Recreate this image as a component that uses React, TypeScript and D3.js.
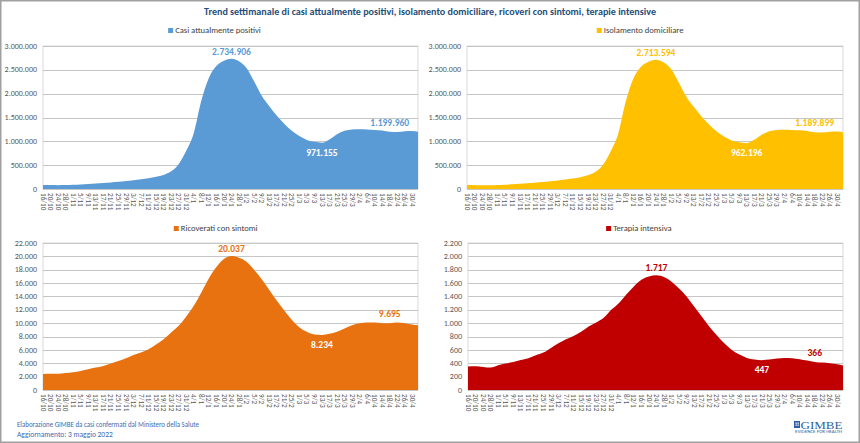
import React from "react";
import * as d3 from "d3";

// ---------- DATA ----------
const tickLabels = ["16/10","20/10","24/10","28/10","1/11","5/11","9/11","13/11","17/11","21/11","25/11","29/11","3/12","7/12","11/12","15/12","19/12","23/12","27/12","31/12","4/1","8/1","12/1","16/1","20/1","24/1","28/1","1/2","5/2","9/2","13/2","17/2","21/2","25/2","1/3","5/3","9/3","13/3","17/3","21/3","25/3","29/3","2/4","6/4","10/4","14/4","18/4","22/4","26/4","30/4"];
const pointDates = [...tickLabels, "3/5"];

const positivi = [85000,82000,80000,82000,87000,94000,103000,113000,125000,138000,
  152000,168000,185000,205000,228000,255000,295000,370000,520000,800000,
  1170000,1850000,2330000,2580000,2690000,2734906,2680000,2540000,2260000,1960000,
  1740000,1540000,1370000,1220000,1110000,1030000,990000,971155,1040000,1150000,
  1220000,1250000,1255000,1250000,1240000,1225000,1200000,1195000,1210000,1215000,
  1199960];
const isolamento = [82000,80000,77000,79000,84000,91000,99000,109000,121000,133000,
  147000,163000,179000,199000,221000,247000,286000,360000,510000,788000,
  1156000,1834000,2312000,2560000,2669000,2713594,2659000,2519000,2240000,1942000,
  1723000,1525000,1357000,1209000,1100000,1020000,981000,962196,1031000,1140000,
  1210000,1240000,1245000,1240000,1230000,1215000,1190000,1185000,1200000,1205000,
  1189899];
const ricoverati = [2400,2450,2450,2550,2650,2850,3100,3350,3600,3950,
  4350,4750,5250,5600,6100,6800,7600,8600,9600,11000,
  12600,14600,16700,18400,19600,20037,19800,19200,18000,16600,
  15000,13400,11900,10500,9400,8700,8300,8234,8400,8700,
  9200,9700,10000,10100,10100,10000,10000,10100,10000,9800,
  9695];
const terapia = [350,355,345,335,370,395,420,450,475,520,
  560,630,700,760,810,870,950,1010,1080,1200,
  1300,1430,1550,1650,1700,1717,1690,1620,1520,1400,
  1250,1100,950,820,700,600,530,480,455,447,
  455,470,480,475,460,440,420,410,400,385,
  366];

const seriesNames = ["Casi attualmente positivi","Isolamento domiciliare","Ricoverati con sintomi","Terapia intensiva"];
const yMaxes = [3000000, 3000000, 22000, 2200];
const ySteps = [500000, 500000, 2000, 200];

const titleText = "Trend settimanale di casi attualmente positivi, isolamento domiciliare, ricoveri con sintomi, terapie intensive";
const footer1 = "Elaborazione GIMBE da casi confermati dal Ministero della Salute";
const footer2 = "Aggiornamento: 3 maggio 2022";

// ---------- LAYOUT ----------
const W = 860, H = 443;
const FONT = "Carlito, Lato, 'Open Sans', sans-serif";
const layouts = [
  { left: 43, right: 418, top: 46, bottom: 189, legendX: 222, legendY: 33, color: "#5B9BD5", data: positivi },
  { left: 467, right: 843, top: 46, bottom: 189, legendX: 645, legendY: 33, color: "#FFC000", data: isolamento },
  { left: 43, right: 418, top: 243, bottom: 390, legendX: 222, legendY: 231, color: "#E8720F", data: ricoverati },
  { left: 468, right: 843, top: 243, bottom: 390, legendX: 645, legendY: 231, color: "#C00000", data: terapia },
];

const itLocale = d3.formatLocale({ decimal: ",", thousands: ".", grouping: [3], currency: ["€", ""] });
const fmt = itLocale.format(",d");

const START = new Date(2021, 9, 16);
function parseDM(s: string): Date {
  const [d, m] = s.split("/").map(Number);
  return new Date(m >= 10 ? 2021 : 2022, m - 1, d);
}

function Panel({ idx }: { idx: number }) {
  const L = layouts[idx];
  const yMax = yMaxes[idx], step = ySteps[idx];
  const dates = pointDates.map(parseDM);
  const x = d3.scaleTime().domain([START, parseDM("3/5")]).range([L.left, L.right]);
  const y = d3.scaleLinear().domain([0, yMax]).range([L.bottom, L.top]);
  const pts = L.data.map((v, i) => ({ d: dates[i], v }));
  const area = d3.area<{ d: Date; v: number }>().x(p => x(p.d)).y0(y(0)).y1(p => y(p.v)).curve(d3.curveMonotoneX);
  const yTicks = d3.range(0, yMax + step / 2, step);
  const peakI = d3.maxIndex(L.data);
  const minI = peakI + d3.minIndex(L.data.slice(peakI, 42));
  const lastI = L.data.length - 1;
  const endLabelI = lastI - 4;
  const legendW = seriesNames[idx].length * 3.75;
  return (
    <g>
      <rect x={L.left} y={L.top} width={L.right - L.left} height={L.bottom - L.top} fill="#fff" stroke="#D9D9D9" strokeWidth={1} />
      {yTicks.map(t => (
        <line key={t} x1={L.left} x2={L.right} y1={Math.round(y(t)) + 0.5} y2={Math.round(y(t)) + 0.5} stroke="#C6C6C6" strokeWidth={1} />
      ))}
      <path d={area(pts) || ""} fill={L.color} />
      {yTicks.map(t => (
        <text key={"l" + t} x={L.left - 6} y={y(t)} dy="0.33em" textAnchor="end" fontSize={8} fill="#595959" fontFamily={FONT}>{fmt(t)}</text>
      ))}
      {tickLabels.map(t => {
        const tx = x(parseDM(t));
        return (
          <text key={"x" + t} transform={`translate(${tx},${L.bottom + 4}) rotate(90)`} dy="0.33em" textAnchor="start" fontSize={7.2} fill="#595959" fontFamily={FONT}>{t}</text>
        );
      })}
      <rect x={L.legendX - legendW / 2 - 7} y={L.legendY - 5} width={5} height={5} fill={L.color} />
      <text x={L.legendX - legendW / 2} y={L.legendY} fontSize={8.6} fill="#404040" fontFamily={FONT}>{seriesNames[idx]}</text>
      <text x={x(dates[peakI])} y={y(L.data[peakI]) - 4} textAnchor="middle" fontSize={9.5} fontWeight="bold" fill={L.color} fontFamily={FONT}>{fmt(L.data[peakI])}</text>
      <text x={x(dates[minI])} y={y(L.data[minI]) + 13} textAnchor="middle" fontSize={9.5} fontWeight="bold" fill="#fff" fontFamily={FONT}>{fmt(L.data[minI])}</text>
      <text x={x(dates[endLabelI])} y={y(L.data[endLabelI]) - 6} textAnchor="middle" fontSize={9.5} fontWeight="bold" fill={L.color} fontFamily={FONT}>{fmt(L.data[lastI])}</text>
    </g>
  );
}

export default function App() {
  return (
    <div style={{ position: "absolute", left: 0, top: 0 }}>
      <svg width={W} height={H} viewBox={`0 0 ${W} ${H}`} style={{ display: "block", background: "#fff" }}>
        <rect x={0.75} y={0.75} width={W - 1.5} height={H - 1.5} fill="#fff" stroke="#A0A0A0" strokeWidth={1.5} />
        <text x={430} y={15} textAnchor="middle" fontSize={10.5} fontWeight="bold" fill="#1F4E79" fontFamily={FONT} textLength={452} lengthAdjust="spacingAndGlyphs">{titleText}</text>
        {[0, 1, 2, 3].map(i => <Panel key={i} idx={i} />)}
        <text x={17} y={427} fontSize={7.5} fill="#3B6BB0" fontFamily={FONT} textLength={182} lengthAdjust="spacingAndGlyphs">{footer1}</text>
        <text x={17} y={436.5} fontSize={7.5} fill="#3B6BB0" fontFamily={FONT}>{footer2}</text>
        <g>
          <rect x={794} y={421} width={6} height={7} fill="#2E5FA3" />
          <rect x={795.5} y={422.5} width={1.3} height={1.3} fill="#fff" />
          <rect x={797.5} y={422.5} width={1.3} height={1.3} fill="#fff" />
          <rect x={795.5} y={424.5} width={1.3} height={1.3} fill="#fff" />
          <rect x={797.5} y={424.5} width={1.3} height={1.3} fill="#fff" />
          <text x={800.5} y={428.5} fontSize={10.5} fill="#2E5FA3" fontFamily="'Liberation Serif', 'DejaVu Serif', serif" textLength={42} lengthAdjust="spacingAndGlyphs">GIMBE</text>
          <text x={795} y={432.5} fontSize={3} fill="#2E5FA3" fontFamily={FONT} textLength={47} lengthAdjust="spacingAndGlyphs">EVIDENCE FOR HEALTH</text>
        </g>
      </svg>
    </div>
  );
}
